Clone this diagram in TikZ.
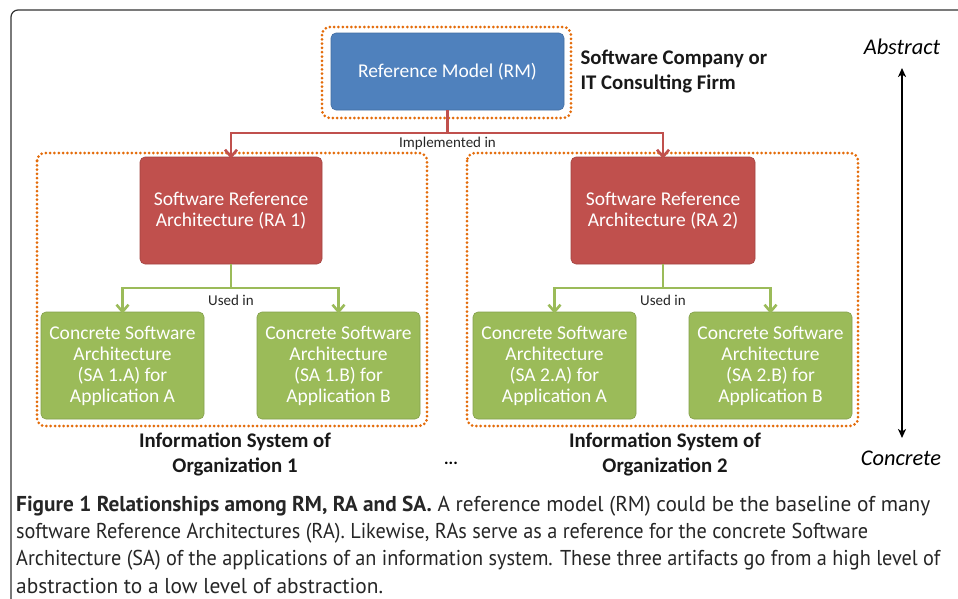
\documentclass[tikz,border=0pt]{standalone}
\usepackage{graphicx}
\usepackage{fontspec}
\setmainfont{Carlito}
\newfontfamily\capfont{PT Sans}
\newfontfamily\capfontb{PT Sans Bold}
\usetikzlibrary{arrows.meta}
\definecolor{rmblue}{HTML}{4F81BD}
\definecolor{rared}{HTML}{C0504D}
\definecolor{sagreen}{HTML}{9BBB59}
\definecolor{dotorange}{HTML}{E46C0A}
\definecolor{framegray}{HTML}{333333}
\tikzset{
  box/.style={rounded corners=5pt, text=white, align=center, font=\fontsize{19.5}{21}\selectfont, inner sep=0pt},
  rmbox/.style={box, fill=rmblue, draw=rmblue!85!black, line width=0.6pt},
  rabox/.style={box, fill=rared, draw=rared!85!black, line width=0.6pt},
  sabox/.style={box, fill=sagreen, draw=sagreen!85!black, line width=0.6pt},
  group/.style={draw=dotorange, line width=3pt, line cap=round, dash pattern=on 0pt off 4.3pt, rounded corners=8pt},
  redlink/.style={draw=rared, line width=2.6pt, -{Straight Barb[length=7pt,width=12pt,line width=2.6pt]}},
  greenlink/.style={draw=sagreen, line width=2.6pt, -{Straight Barb[length=7pt,width=12pt,line width=2.6pt]}},
  linklabel/.style={font=\fontsize{15}{18}\selectfont, text=black!85},
  heading/.style={font=\bfseries\fontsize{20.8}{25}\selectfont, align=center, text=black!90},
  levellabel/.style={font=\itshape\fontsize{22.4}{26}\selectfont},
  capline/.style={anchor=west, inner sep=0pt, font=\capfont\fontsize{21.5}{24}\selectfont, text=black!85}
}
% one caption line squeezed to a given width
\newcommand{\capfit}[2]{\resizebox{#1}{\height}{#2}}
\begin{document}
\begin{tikzpicture}[x=1pt,y=-1pt]
\useasboundingbox (0,0) rectangle (958,598);
\fill[white] (0,0) rectangle (958,598);
% frame round the figure and its caption
\draw[framegray, line width=1.2pt, rounded corners=7pt] (960,10) -- (11,10) -- (11,600);

% groups
\draw[group] (322,27) rectangle (571,118);
\draw[group] (37,153) rectangle (427,426);
\draw[group] (467,153) rectangle (858,426);

% reference model
\node[rmbox, minimum width=233pt, minimum height=77pt] (rm) at (447.5,71.5) {Reference Model (RM)};
\node[heading, align=left, anchor=west] (firm) at (577,72) {Software Company or\\IT Consulting Firm};

% reference architectures
\node[rabox, minimum width=182pt, minimum height=107pt] (ra1) at (231,210.5) {Software Reference\\Architecture (RA 1)};
\node[rabox, minimum width=184pt, minimum height=107pt] (ra2) at (663,210.5) {Software Reference\\Architecture (RA 2)};

% concrete architectures
\node[sabox, minimum width=163pt, minimum height=107pt] (sa1a) at (122.5,365.5) {Concrete Software\\Architecture\\(SA 1.A) for\\Application A};
\node[sabox, minimum width=163pt, minimum height=107pt] (sa1b) at (338.5,365.5) {Concrete Software\\Architecture\\(SA 1.B) for\\Application B};
\node[sabox, minimum width=163pt, minimum height=107pt] (sa2a) at (554.5,365.5) {Concrete Software\\Architecture\\(SA 2.A) for\\Application A};
\node[sabox, minimum width=163pt, minimum height=107pt] (sa2b) at (770.5,365.5) {Concrete Software\\Architecture\\(SA 2.B) for\\Application B};

% RM implemented in RA 1 / RA 2
\coordinate (rmsplit) at (447.5,133);
\draw[rared, line width=2.6pt] (rm.south) -- (rmsplit);
\draw[redlink] (rmsplit) -| ([yshift=-2pt]ra1.north);
\draw[redlink] (rmsplit) -| ([yshift=-2pt]ra2.north);
\node[linklabel] (impl) at (447.5,143) {Implemented in};

% RA used in SA
\coordinate (split1) at (231,288);
\draw[sagreen, line width=2.6pt] (ra1.south) -- (split1);
\draw[greenlink] (split1) -| ([yshift=-2pt]sa1a.north);
\draw[greenlink] (split1) -| ([yshift=-2pt]sa1b.north);
\node[linklabel] (used1) at (231,300) {Used in};

\coordinate (split2) at (663,288);
\draw[sagreen, line width=2.6pt] (ra2.south) -- (split2);
\draw[greenlink] (split2) -| ([yshift=-2pt]sa2a.north);
\draw[greenlink] (split2) -| ([yshift=-2pt]sa2b.north);
\node[linklabel] (used2) at (663,300) {Used in};

% organisation labels
\node[heading] (org1) at (235,454) {Information System of\\Organization 1};
\node[heading] (org2) at (665,454) {Information System of\\Organization 2};
\node[font=\bfseries\fontsize{17}{20}\selectfont] (dots) at (451,463) {...};

% abstraction scale
\node[levellabel] (abs) at (902,47) {Abstract};
\node[levellabel] (con) at (901,458) {Concrete};
\draw[{Stealth[length=9pt,width=8pt,inset=2.5pt]}-{Stealth[length=9pt,width=8pt,inset=2.5pt]}, line width=1.6pt] (902,68) -- (902,438);

% caption
\node[capline] (cap1) at (16,506) {\capfit{914pt}{{\capfontb Figure 1 Relationships among RM, RA and SA.} A reference model (RM) could be the baseline of many}};
\node[capline] (cap2) at (16,533) {\capfit{852pt}{software Reference Architectures (RA). Likewise, RAs serve as a reference for the concrete Software}};
\node[capline] (cap3) at (16,560) {\capfit{924pt}{Architecture (SA) of the applications of an information system. These three artifacts go from a high level of}};
\node[capline] (cap4) at (16,586) {\capfit{367pt}{abstraction to a low level of abstraction.}};
\end{tikzpicture}
\end{document}
